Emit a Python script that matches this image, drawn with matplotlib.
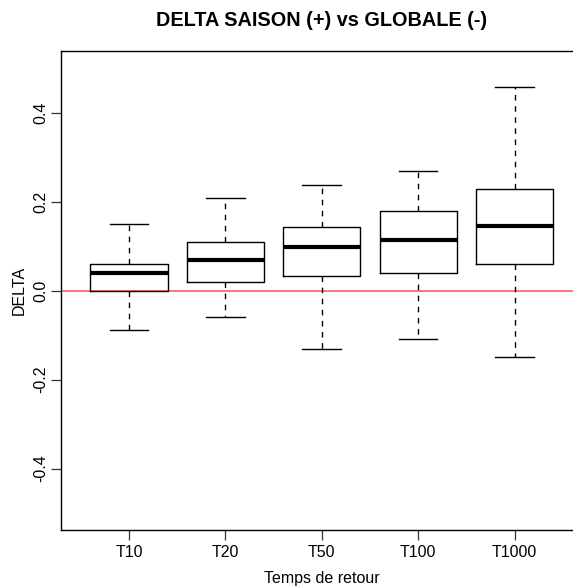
import matplotlib
matplotlib.use("Agg")
import matplotlib.pyplot as plt

categories = ["T10", "T20", "T50", "T100", "T1000"]
whislo = [-0.089, -0.059, -0.131, -0.109, -0.150]
q1     = [0.000, 0.019, 0.034, 0.039, 0.060]
med    = [0.039, 0.070, 0.099, 0.114, 0.145]
q3     = [0.059, 0.109, 0.144, 0.179, 0.228]
whishi = [0.151, 0.209, 0.238, 0.269, 0.458]
yticks = [-0.4, -0.2, 0.0, 0.2, 0.4]

plt.rcParams['font.family'] = ['Liberation Sans', 'DejaVu Sans']

W, H = 573, 587
fig = plt.figure(figsize=(W / 100, H / 100), dpi=100)
left, right, top, bottom = 61, 582.5, 51, 530
ax = fig.add_axes([left / W, (H - bottom) / H, (right - left) / W, (bottom - top) / H])

stats = []
for i, c in enumerate(categories):
    stats.append(dict(label=c, whislo=whislo[i], q1=q1[i], med=med[i],
                      q3=q3[i], whishi=whishi[i], fliers=[]))

positions = list(range(1, len(categories) + 1))
ax.axhline(0, color='#FF6B6B', lw=1.3, zorder=1)
ax.bxp(stats, positions=positions, widths=0.8, capwidths=0.4,
       showfliers=False, patch_artist=False,
       boxprops=dict(color='black', lw=1.0),
       medianprops=dict(color='black', lw=3.0, solid_capstyle='butt'),
       whiskerprops=dict(color='black', lw=1.0, linestyle=(0, (4, 4))),
       capprops=dict(color='black', lw=1.0))

ax.set_xlim(0.295, 5.705)
ax.set_ylim(-0.538, 0.539)
ax.set_yticks(yticks)
ax.set_yticklabels([f"{v:.1f}" for v in yticks], rotation=90, va='center')
ax.set_xticks(positions)
ax.set_xticklabels(categories)
ax.tick_params(axis='both', labelsize=11.5, length=7, width=0.9, color='#333333')
ax.tick_params(axis='y', pad=2)
ax.tick_params(axis='x', pad=4)
for s in ax.spines.values():
    s.set_linewidth(1.0)
ax.spines['right'].set_visible(False)

fig.text(321.5 / W, 1 - 20 / H, "DELTA SAISON (+) vs GLOBALE (-)", ha='center', va='center',
         fontsize=14.3, fontweight='bold')
fig.text(321.5 / W, 1 - 578 / H, "Temps de retour", ha='center', va='center', fontsize=11.5)
fig.text(19.5 / W, 1 - 290 / H, "DELTA", ha='center', va='center', rotation=90, fontsize=11.5)

fig.savefig("out.png", dpi=100)
